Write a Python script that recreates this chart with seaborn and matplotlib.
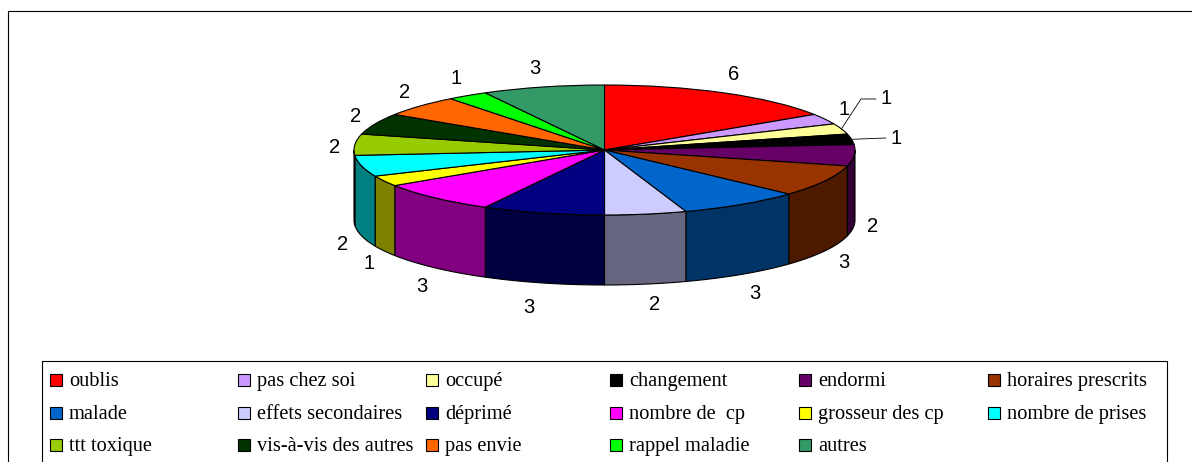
import numpy as np
import matplotlib
matplotlib.use("Agg")
import matplotlib.pyplot as plt
from matplotlib.patches import Rectangle
import seaborn as sns

categories = ["oublis", "pas chez soi", "occupé", "changement", "endormi", "horaires prescrits",
              "malade", "effets secondaires", "déprimé", "nombre de  cp", "grosseur des cp", "nombre de prises",
              "ttt toxique", "vis-à-vis des autres", "pas envie", "rappel maladie", "autres"]
values = [6, 1, 1, 1, 2, 3, 3, 2, 3, 3, 1, 2, 2, 2, 2, 1, 3]
colors = ["#FF0000", "#CC99FF", "#FFFF99", "#000000", "#660066", "#993300",
          "#0066CC", "#CCCCFF", "#000080", "#FF00FF", "#FFFF00", "#00FFFF",
          "#99CC00", "#003300", "#FF6600", "#00FF00", "#339966"]

W, H = 1192, 462
cx, cy, rx, ry, depth = 604.5, 150, 250.5, 65, 70
line_w = 0.8

sns.set_theme(style="white")
palette = sns.color_palette(colors)
sides = [tuple(np.array(c) * 0.5) for c in palette]

fig = plt.figure(figsize=(W / 100, H / 100), dpi=100, facecolor="white")

# fond: cadre + legende, en pixels
bg = fig.add_axes([0, 0, 1, 1])
bg.set_xlim(0, W)
bg.set_ylim(H, 0)
bg.axis("off")
bg.add_patch(Rectangle((7.5, 10.5), 1300, 500, fc="white", ec="black", lw=line_w))
bg.add_patch(Rectangle((41.5, 360.5), 1125.5, 150, fc="white", ec="black", lw=line_w))

col_x = [50, 238, 426, 610, 799, 988]
row_y = [380, 413, 445]
for i, (name, c) in enumerate(zip(categories, palette)):
    x = col_x[i % 6]
    y = row_y[i // 6]
    bg.add_patch(Rectangle((x, y - 6), 12, 12, fc=c, ec="black", lw=line_w))
    bg.text(x + 19, y + 1.5, name, family="Liberation Serif", fontsize=14.7, color="black",
            va="center", ha="left")

# camembert
ax = fig.add_axes([(cx - rx) / W, 1 - (cy + ry) / H, 2 * rx / W, 2 * ry / H])
ax.pie(values, colors=palette, startangle=90, counterclock=False, radius=1, center=(0, 0),
       wedgeprops=dict(edgecolor="black", linewidth=line_w, clip_on=False))
ax.set_aspect("auto")
ax.set_xlim(-1, 1)
ax.set_ylim(-1, 1)
ax.axis("off")

edges = np.cumsum([0] + values) / sum(values) * 360
h = depth / ry
for i in range(len(values)):
    a0, a1 = max(edges[i], 90), min(edges[i + 1], 270)
    if a1 <= a0:
        continue
    t = np.radians(np.linspace(a0, a1, 60))
    xs = np.concatenate([np.sin(t), np.sin(t)[::-1]])
    ys = np.concatenate([np.cos(t), np.cos(t)[::-1] - h])
    ax.fill(xs, ys, fc=sides[i], ec="black", lw=line_w, zorder=0.5, clip_on=False)

# etiquettes
lab_rx, lab_ry = 272 / rx, 87 / ry
moved = {2: (886, 99), 3: (896, 138)}
nudge = {4: (-3, -2), 7: (5, -2), 8: (-9, 2), 12: (1, 4), 16: (-3, 2), 10: (4, 1), 11: (2, 2), 6: (2, 0), 9: (2, 1)}
for i, v in enumerate(values):
    a = np.radians((edges[i] + edges[i + 1]) / 2)
    if i in moved:
        px, py = moved[i]
        lx, ly = (px - cx) / rx, (cy - py) / ry
        sx, sy = np.sin(a), np.cos(a)
        if i == 2:
            kx = (px - 10 - 15 - cx) / rx
            ax.plot([sx, kx, (px - 10 - cx) / rx], [sy, ly, ly], color="black", lw=0.6, clip_on=False, zorder=5)
        else:
            ax.plot([sx, (px - 10 - cx) / rx], [sy, ly], color="black", lw=0.6, clip_on=False, zorder=5)
    else:
        lx = lab_rx * np.sin(a)
        ly = lab_ry * np.cos(a)
        if np.cos(a) < 0:
            ly -= h
        dx, dy = nudge.get(i, (0, 0))
        lx += dx / rx
        ly -= (dy + 1) / ry
    ax.text(lx, ly, str(v), family="Liberation Sans", fontsize=14.5, color="black",
            ha="center", va="center", clip_on=False)

fig.savefig("out.png", dpi=100)
